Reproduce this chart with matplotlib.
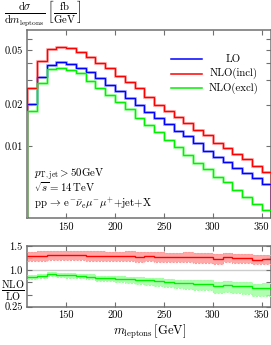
import numpy as np
import matplotlib
matplotlib.use("Agg")
from matplotlib import pyplot as plt

plt.rcParams['font.family'] = 'serif'
plt.rcParams['font.serif'] = ['cmr10']
plt.rcParams['mathtext.fontset'] = 'cm'
plt.rcParams['axes.formatter.use_mathtext'] = True

# bins of m_leptons (GeV)
edges = np.arange(110, 361, 10)

# top panel: dsigma/dm [fb/GeV]
lo = [0.0202, 0.0319, 0.0388, 0.0406, 0.0395, 0.0371, 0.0343, 0.0310, 0.0277, 0.0251,
      0.0224, 0.0200, 0.0177, 0.0160, 0.0144, 0.0128, 0.0117, 0.0104, 0.00919, 0.00832,
      0.00764, 0.00684, 0.00629, 0.00578, 0.00525]
nlo_incl = [0.0262, 0.0418, 0.0508, 0.0528, 0.0514, 0.0481, 0.0447, 0.0400, 0.0367, 0.0324,
            0.0293, 0.0262, 0.0228, 0.0200, 0.0179, 0.0161, 0.0146, 0.0130, 0.0120, 0.0105,
            0.00957, 0.00865, 0.00796, 0.00714, 0.00646]
nlo_excl = [0.0179, 0.0288, 0.0361, 0.0371, 0.0357, 0.0338, 0.0298, 0.0262, 0.0234, 0.0210,
            0.0184, 0.0160, 0.0142, 0.0125, 0.0110, 0.00978, 0.00855, 0.00751, 0.00673, 0.00594,
            0.00546, 0.00475, 0.00424, 0.00375, 0.00339]

# bottom panel: NLO/LO with scale bands
k_incl = [1.29, 1.30, 1.31, 1.31, 1.31, 1.31, 1.30, 1.30, 1.29, 1.29, 1.30, 1.28, 1.29,
          1.28, 1.27, 1.27, 1.28, 1.27, 1.27, 1.23, 1.28, 1.26, 1.26, 1.22, 1.23]
k_incl_up = [1.38, 1.39, 1.40, 1.40, 1.40, 1.40, 1.39, 1.39, 1.38, 1.38, 1.39, 1.37, 1.38,
             1.37, 1.36, 1.36, 1.37, 1.36, 1.36, 1.33, 1.36, 1.34, 1.34, 1.31, 1.31]
k_incl_dn = [1.19, 1.20, 1.21, 1.21, 1.21, 1.21, 1.20, 1.20, 1.19, 1.19, 1.20, 1.18, 1.19,
             1.18, 1.17, 1.17, 1.18, 1.16, 1.16, 1.12, 1.17, 1.15, 1.15, 1.12, 1.13]
k_excl = [0.87, 0.89, 0.92, 0.91, 0.90, 0.89, 0.87, 0.84, 0.84, 0.83, 0.82, 0.80, 0.79,
          0.78, 0.76, 0.74, 0.73, 0.72, 0.71, 0.67, 0.70, 0.67, 0.67, 0.63, 0.64]
k_excl_up = [0.91, 0.93, 0.96, 0.95, 0.94, 0.93, 0.92, 0.89, 0.89, 0.88, 0.87, 0.86, 0.85,
             0.84, 0.83, 0.81, 0.80, 0.79, 0.79, 0.75, 0.78, 0.76, 0.76, 0.72, 0.74]
k_excl_dn = [0.83, 0.85, 0.88, 0.86, 0.85, 0.84, 0.82, 0.78, 0.77, 0.76, 0.74, 0.72, 0.70,
             0.68, 0.66, 0.64, 0.62, 0.60, 0.59, 0.54, 0.56, 0.53, 0.52, 0.48, 0.48]

xticks = [150, 200, 250, 300, 350]
fs = 7.5
spine_col = '#707070'

fig = plt.figure(figsize=(2.71, 3.45), dpi=100)
ax = fig.add_axes([0.0996, 0.367, 0.902, 0.546])
axr = fig.add_axes([0.0996, 0.111, 0.902, 0.176])

for a in (ax, axr):
    for s in a.spines.values():
        s.set_color(spine_col)
        s.set_linewidth(1.1)
    a.tick_params(direction='in', top=True, right=True, length=3.5, width=0.8,
                  color=spine_col, labelsize=fs, pad=3)
    a.set_xlim(110, 360)
    a.set_xticks(xticks)
    a.set_xticklabels([str(t) for t in xticks])

# top panel
ax.set_yscale('log')
ax.set_ylim(0.00295, 0.070)
ax.set_yticks([0.01, 0.02, 0.03, 0.04, 0.05, 0.06])
ax.set_yticklabels(['0.01', '0.02', '', '', '0.05', ''])
ax.minorticks_off()

curves = [(lo, 'blue', '#b0b0ff'), (nlo_incl, 'red', '#ffb0b0'), (nlo_excl, '#00f000', '#b0ffb0')]
for vals, col, light in curves:
    ax.stairs(vals, edges, baseline=1e-3, color=light, lw=2.0, zorder=2)
    ax.stairs(vals, edges, baseline=1e-3, color=col, lw=1.0, zorder=3)

# legend by hand
leg = [('LO', 'blue', 0.845), ('NLO(incl)', 'red', 0.768), ('NLO(excl)', '#00f000', 0.692)]
for name, col, yy in leg:
    ax.plot([0.59, 0.715], [yy, yy], color=col, lw=1.1, transform=ax.transAxes)
    ax.text(0.845, yy, name, ha='center', va='center', fontsize=fs + 0.3, transform=ax.transAxes)

ax.text(0.03, 0.235, r'$p_{\rm T,jet} > 50$GeV', fontsize=fs + 0.3, transform=ax.transAxes, va='center')
ax.text(0.03, 0.165, r'$\sqrt{s} = 14\,$TeV', fontsize=fs + 0.3, transform=ax.transAxes, va='center')
ax.text(0.03, 0.08, r'pp$\,\rightarrow\,$e$^{-}\bar{\nu}_{\rm e}\mu^{-}\mu^{+}$+jet+X',
        fontsize=fs + 0.3, transform=ax.transAxes, va='center')

fig.text(0.015, 0.960, r'$\frac{{\rm d}\sigma}{{\rm d}m_{\rm leptons}}\,\left[\frac{\rm fb}{\rm GeV}\right]$',
         fontsize=11, va='center', ha='left')

# ratio panel
axr.set_ylim(0.25, 1.5)
axr.set_yticks([0.25, 0.5, 0.75, 1.0, 1.25, 1.5])
axr.set_yticklabels(['0.25', '', '', '1.0', '', '1.5'])
axr.axhline(1.0, color='#cccccc', lw=1.0, zorder=1)

bands = [(k_incl, k_incl_up, k_incl_dn, 'red', '#ff9a9a'),
         (k_excl, k_excl_up, k_excl_dn, '#00f000', '#a0ffa0')]
for c, up, dn, col, light in bands:
    axr.stairs(up, edges, baseline=dn, fill=True, color=light, alpha=0.85, lw=0, zorder=2)
    axr.stairs(up, edges, baseline=None, color=light, lw=0.8, ls=(0, (2, 1)), zorder=3)
    axr.stairs(dn, edges, baseline=None, color=light, lw=0.8, ls=(0, (2, 1)), zorder=3)
    axr.stairs(c, edges, baseline=None, color=col, lw=1.0, zorder=4)

fig.text(0.048, 0.157, r'$\frac{\rm NLO}{\rm LO}$', fontsize=10.5, ha='center', va='center')
axr.set_xlabel(r'$m_{\rm leptons}\,[{\rm GeV}]$', fontsize=fs + 1.5, labelpad=2)

fig.savefig('out.png', dpi=100)
